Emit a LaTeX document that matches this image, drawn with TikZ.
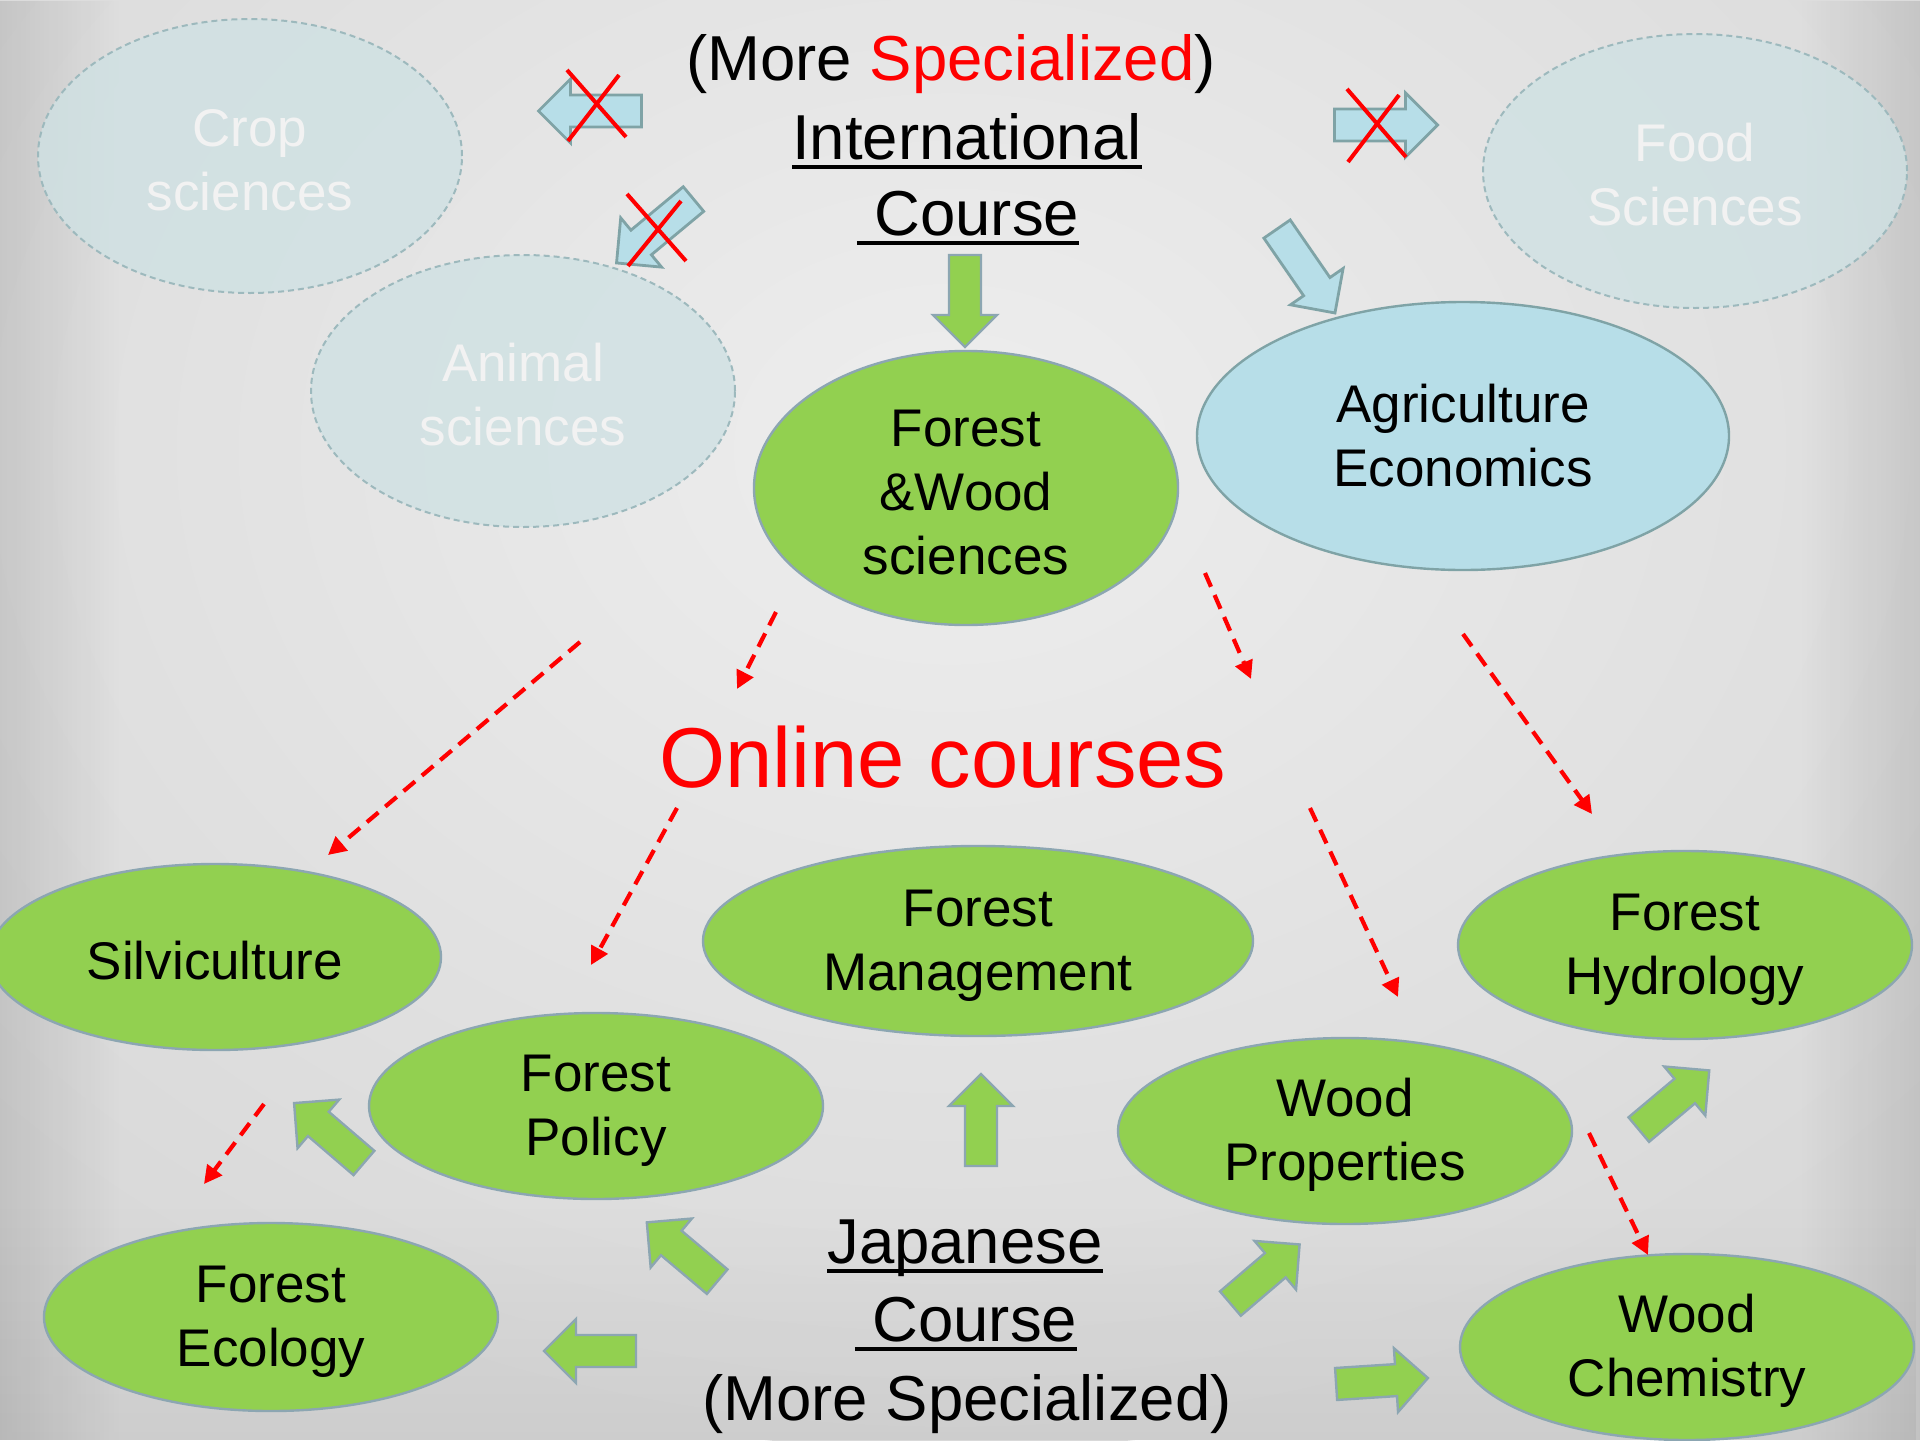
\documentclass[tikz,border=0pt]{standalone}
\usepackage{fontspec}
\setmainfont{Liberation Sans}
\usetikzlibrary{shapes.geometric,arrows.meta,fadings}
\definecolor{leaf}{HTML}{92D050}
\definecolor{edgec}{HTML}{8CA6B2}
\definecolor{sky}{HTML}{B7DEE8}
\definecolor{skyedge}{HTML}{7FA3A6}
\definecolor{fadefill}{HTML}{CFE1E3}
\definecolor{fadeedge}{HTML}{9DB9BD}
\definecolor{fadetext}{HTML}{F2F2F2}
\definecolor{bgc}{HTML}{D9D9D9}
\definecolor{bglight}{HTML}{EEEEEE}
\definecolor{pptred}{HTML}{FF0000}
\newsavebox\ulbox
\newcommand\myul[1]{\sbox\ulbox{#1}\rlap{\vrule height -0.1em depth 0.15em width \wd\ulbox}\usebox\ulbox}
\newcommand\nodefont{\fontsize{26.5}{32}\selectfont}
\newcommand\headfont{\fontsize{31.75}{38}\selectfont}
\newcommand\onlinefont{\fontsize{42.5}{50}\selectfont}
\newcommand\upstrut{\rule{0pt}{23pt}}
\newcommand\blockarr[5]{\begin{scope}[shift={(#2,#3)},rotate=#4]
\draw[#1] ({-#5/2},16) -- ({#5/2-32},16) -- ({#5/2-32},32) -- ({#5/2},0) -- ({#5/2-32},-32) -- ({#5/2-32},-16) -- ({-#5/2},-16) -- cycle;
\end{scope}}
\tikzset{
  greennode/.style={ellipse, draw=edgec, line width=1.2pt, fill=leaf, inner sep=0pt, align=center, font=\nodefont, text=black},
  bluenode/.style={ellipse, draw=skyedge, line width=1.2pt, fill=sky, inner sep=0pt, align=center, font=\nodefont, text=black},
  fadenode/.style={ellipse, draw=fadeedge, dash pattern=on 3pt off 2pt, line width=1pt, fill=fadefill, fill opacity=0.8, text opacity=1, inner sep=0pt, align=center, font=\nodefont, text=fadetext},
  bluearrow/.style={fill=sky, draw=skyedge, line width=1.4pt, line join=miter},
  greenarrow/.style={fill=leaf, draw=edgec, line width=1.2pt, line join=miter},
  crossline/.style={draw=pptred, line width=2pt},
  online/.style={draw=pptred, line width=2.1pt, dash pattern=on 7.5pt off 4.5pt, -{Triangle[length=9pt,width=9pt]}},
  headtext/.style={anchor=base, font=\headfont, text=black, inner sep=0pt}
}
\begin{document}
\begin{tikzpicture}[x=0.5pt,y=-0.5pt]
\useasboundingbox (0,0) rectangle (1920,1440);
% background
\fill[bgc] (0,0) rectangle (1920,1440);
\shade[inner color=bglight, outer color=bgc] (950,450) ellipse [x radius=1300, y radius=1000];
\fill[black, opacity=0.10, path fading=east] (0,0) rectangle (120,1440);
\fill[black, opacity=0.10, path fading=west] (1800,0) rectangle (1920,1440);
\fill[black, opacity=0.05, path fading=north] (0,1200) rectangle (1920,1440);

% faded (not chosen) courses
\node[fadenode, minimum width=212pt, minimum height=137pt] (crop) at (250,156) {\upstrut Crop\\sciences};
\node[fadenode, minimum width=212pt, minimum height=136pt] (animal) at (523,391) {\upstrut Animal\\sciences};
\node[fadenode, minimum width=212pt, minimum height=137pt] (food) at (1695,171) {\upstrut Food\\Sciences};

% blue block arrows
\blockarr{bluearrow}{590}{111}{180}{103}
\blockarr{bluearrow}{655}{231}{219.7}{100}
\blockarr{bluearrow}{1386}{125}{0}{103}
\blockarr{bluearrow}{1306}{271}{-55.4}{102}

% red crosses
\draw[crossline] (567,70) -- (626,137);
\draw[crossline] (619,75) -- (568,141);
\draw[crossline] (627,194) -- (686,261);
\draw[crossline] (681,201) -- (628,266);
\draw[crossline] (1347,89) -- (1406,157);
\draw[crossline] (1399,95) -- (1348,162);

% headings
\node[headtext] (spec1) at (951,80) {(More {\color{pptred}Specialized})};
\node[headtext] (intl) at (967,159) {\myul{International}};
\node[headtext] (course1) at (968,235) {\myul{\ Course}};
\node[anchor=base, font=\onlinefont, text=pptred, inner sep=0pt] (onl) at (943,787) {Online courses};
\node[headtext] (jp) at (965,1263) {\myul{Japanese}};
\node[headtext] (course2) at (966,1341) {\myul{\ Course}};
\node[headtext] (spec2) at (967,1420) {(More Specialized)};

% green block arrows
\blockarr{greenarrow}{965}{301}{-90}{92}
\blockarr{greenarrow}{981}{1120}{90}{92}
\blockarr{greenarrow}{1265}{1274}{40.5}{91}
\blockarr{greenarrow}{1674}{1100}{40}{92}
\blockarr{greenarrow}{1382}{1381}{3.7}{92}
\blockarr{greenarrow}{590}{1351}{180}{92}
\blockarr{greenarrow}{682}{1252}{139.9}{92}
\blockarr{greenarrow}{329}{1133}{139.4}{92}

% main course nodes
\node[greennode, minimum width=212pt, minimum height=137pt] (fws) at (966,488) {\upstrut Forest\\\&Wood\\sciences};
\node[bluenode, minimum width=266pt, minimum height=134pt] (agri) at (1463,436) {Agriculture\\Economics};
\node[greennode, minimum width=226pt, minimum height=93pt] (silvi) at (215,957) {\upstrut Silviculture};
\node[greennode, minimum width=275pt, minimum height=95pt] (mgmt) at (978,941) {\upstrut Forest\\Management};
\node[greennode, minimum width=227pt, minimum height=94pt] (hydro) at (1685,945) {\upstrut Forest\\Hydrology};
\node[greennode, minimum width=227pt, minimum height=93pt] (policy) at (596,1106) {\upstrut Forest\\Policy};
\node[greennode, minimum width=227pt, minimum height=93pt] (wprop) at (1345,1131) {\upstrut Wood\\Properties};
\node[greennode, minimum width=227pt, minimum height=94pt] (ecol) at (271,1317) {\upstrut Forest\\Ecology};
\node[greennode, minimum width=227pt, minimum height=93pt] (chem) at (1687,1347) {\upstrut Wood\\Chemistry};

% red dashed online arrows
\coordinate (a1) at (580,642);  \coordinate (b1) at (328,855);
\coordinate (a2) at (776,612);  \coordinate (b2) at (737,689);
\coordinate (a3) at (1205,573); \coordinate (b3) at (1251,679);
\coordinate (a4) at (1463,634); \coordinate (b4) at (1592,814);
\coordinate (a5) at (677,808);  \coordinate (b5) at (591,965);
\coordinate (a6) at (1310,808); \coordinate (b6) at (1398,997);
\coordinate (a7) at (264,1104); \coordinate (b7) at (204,1184);
\coordinate (a8) at (1589,1133);\coordinate (b8) at (1648,1255);
\foreach \i in {1,...,8} \draw[online] (a\i) -- (b\i);
\end{tikzpicture}
\end{document}
